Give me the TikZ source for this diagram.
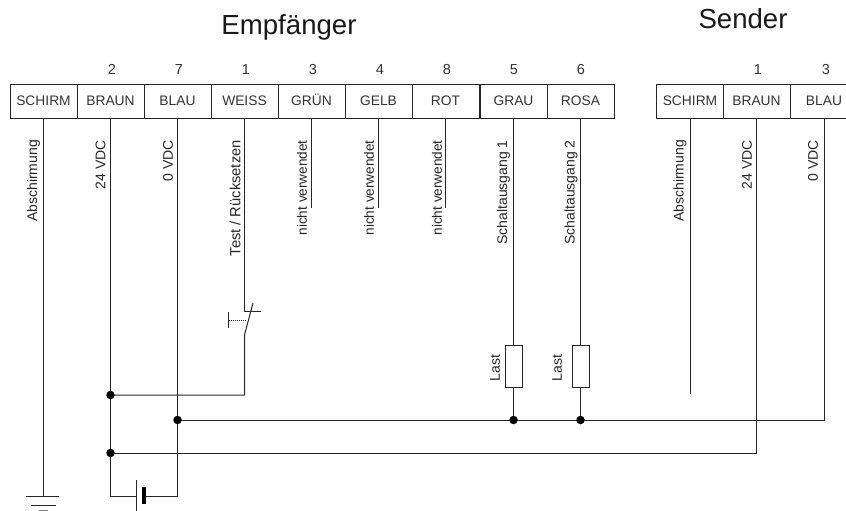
\documentclass[tikz,border=0pt]{standalone}
\usepackage{fontspec}
\setmainfont{Liberation Sans}
\newcommand{\fs}[1]{\fontsize{#1}{#1}\selectfont}
\tikzset{
  pin box/.style={draw=black!85,line width=1pt,minimum width=67pt,minimum height=34pt,inner sep=0pt,text height=9.7pt,text depth=0pt,text=black!80,font=\fs{13.8}},
  pinnum/.style={inner sep=0pt,text=black!80,font=\fs{14.5}},
  title/.style={inner sep=0pt,text=black!90,font=\fs{27.6},anchor=base},
  vlabel/.style={inner sep=0pt,rotate=90,anchor=east,text=black!85,font=\fs{14}},
  thinlabel/.style={vlabel,font=\fs{13.6}},
  widelabel/.style={vlabel,font=\fs{14.7}},
  lastlabel/.style={inner sep=0pt,rotate=90,text=black!85,font=\fs{14}},
  wire/.style={line width=1pt,black!85},
  dot/.style={circle,fill=black,inner sep=0pt,minimum size=8.5pt},
  load/.style={draw=black!85,line width=1pt,minimum width=17pt,minimum height=42pt,inner sep=0pt,fill=white},
}
\begin{document}
\begin{tikzpicture}[x=1pt,y=-1pt]
\useasboundingbox (0,0) rectangle (846,511);
\clip (0,0) rectangle (846,511);
\node[title] (t1) at (289,35) {Empfänger};
\node[title] (t2) at (743,29) {Sender};
% connector blocks
\foreach \n/\x/\t in {a/43.5/SCHIRM,b/110.5/BRAUN,c/177.5/BLAU,d/244.5/WEISS,e/311.5/GRÜN,f/378.5/GELB,g/445.5/ROT,h/513.5/GRAU,i/580.5/ROSA,j/690/SCHIRM,k/756.5/BRAUN,l/824/BLAU}
  \node[pin box] (\n) at (\x,101) {\t};
\foreach \n/\x/\t in {na/112/2,nb/179/7,nc/246/1,nd/313/3,ne/380/4,nf/447/8,ng/514/5,nh/581/6,ni/758/1,nj/826/3}
  \node[pinnum] (\n) at (\x,69.5) {\t};
% labels
\node[vlabel] (la) at (33.5,140) {Abschirmung};
\node[vlabel] (lb) at (100.5,140) {24 VDC};
\node[vlabel] (lc) at (168,140) {0 VDC};
\node[widelabel] (ld) at (235,140) {Test / Rücksetzen};
\node[thinlabel] (le) at (302,140) {nicht verwendet};
\node[thinlabel] (lf) at (369,140) {nicht verwendet};
\node[thinlabel] (lg) at (437,140) {nicht verwendet};
\node[vlabel] (lh) at (503.5,140) {Schaltausgang 1};
\node[vlabel] (li) at (571,140) {Schaltausgang 2};
\node[vlabel] (lj) at (680,140) {Abschirmung};
\node[vlabel] (lk) at (747,140) {24 VDC};
\node[vlabel] (ll) at (813,140) {0 VDC};
% named points
\coordinate (gnd) at (43.5,496);
\coordinate (j1) at (110.5,395);
\coordinate (j2) at (177.5,420);
\coordinate (j3) at (110.5,453);
\coordinate (bl) at (110.5,496);
\coordinate (br) at (177.5,496);
\coordinate (p1) at (136,496);
\coordinate (p2) at (144,496);
\coordinate (sw1) at (244.5,395);
\coordinate (sw2) at (244.5,335);
\coordinate (sw3) at (244.5,311);
\coordinate (sw4) at (261,311);
\coordinate (sw5) at (253,303);
\coordinate (pb) at (228.5,320);
\coordinate (pm) at (246,320);
\coordinate (e1) at (311.5,208);
\coordinate (f1) at (378.5,208);
\coordinate (g1) at (445.5,208);
\coordinate (j4) at (513.5,420);
\coordinate (j5) at (580.5,420);
\coordinate (j1e) at (690,394);
\coordinate (r1) at (756.5,453);
\coordinate (r2) at (824,420);
% loads
\node[load] (ra) at (513.5,366) {};
\node[load] (rb) at (580.5,366) {};
\node[lastlabel] (lla) at (495,368) {Last};
\node[lastlabel] (llb) at (557,368) {Last};
% wires
\draw[wire] (a.south) -- (gnd);
\draw[wire] (b.south) -- (bl) -- (p1);
\draw[wire] (c.south) -- (br) -- (p2);
\draw[wire] (d.south) -- (sw3) -- (sw4);
\draw[wire] (sw5) -- (sw2) -- (sw1) -- (j1);
\draw[wire,densely dotted] (pb) -- (pm);
\draw[wire] (228.5,311.5) -- (228.5,328);
\draw[wire] (e.south) -- (e1);
\draw[wire] (f.south) -- (f1);
\draw[wire] (g.south) -- (g1);
\draw[wire] (h.south) -- (ra.north);
\draw[wire] (ra.south) -- (j4);
\draw[wire] (i.south) -- (rb.north);
\draw[wire] (rb.south) -- (j5);
\draw[wire] (j.south) -- (j1e);
\draw[wire] (k.south) -- (r1) -- (j3);
\draw[wire] (l.south) -- (r2) -- (j2);
% battery
\draw[wire] (136,480) -- (136,511);
\draw[black,line width=4pt] (144,487) -- (144,504);
% ground
\draw[wire] (26,496) -- (59,496);
\draw[wire] (31,505) -- (56,505);
\draw[wire,black!50] (39,510.2) -- (48,510.2);
% junction dots
\node[dot] (d1) at (j1) {};
\node[dot] (d2) at (j2) {};
\node[dot] (d3) at (j3) {};
\node[dot] (d4) at (j4) {};
\node[dot] (d5) at (j5) {};
\end{tikzpicture}
\end{document}
